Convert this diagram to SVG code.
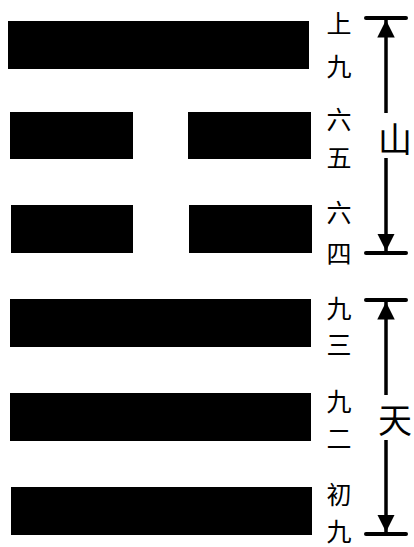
<svg xmlns="http://www.w3.org/2000/svg" width="414" height="547" viewBox="0 0 414 547">
<style>
.bar{fill:#000;}
.lbl{font-family:"Noto Sans CJK SC","Noto Sans CJK JP",sans-serif;font-size:25px;fill:#000;text-anchor:middle;dominant-baseline:central;}
.big{font-family:"Noto Sans CJK SC","Noto Sans CJK JP",sans-serif;font-size:34px;fill:#000;text-anchor:middle;dominant-baseline:central;}
.ln{stroke:#000;stroke-width:3.5;fill:none;}
.tick{stroke:#000;stroke-width:4;stroke-linecap:round;}
</style>
<defs>
<marker id="ah" viewBox="0 0 10 10" refX="10" refY="5" markerWidth="5" markerHeight="5" markerUnits="strokeWidth" orient="auto">
<path d="M0,0 L10,5 L0,10 z" fill="#000"/>
</marker>
</defs>
<rect width="414" height="547" fill="#fff"/>
<g id="line6"><rect class="bar" x="8" y="21" width="301" height="48"/></g>
<g id="line5"><rect class="bar" x="10" y="112" width="123" height="47"/><rect class="bar" x="188" y="112" width="123" height="47"/></g>
<g id="line4"><rect class="bar" x="11" y="205" width="122" height="48"/><rect class="bar" x="189" y="205" width="123" height="48"/></g>
<g id="line3"><rect class="bar" x="10" y="299" width="301" height="48"/></g>
<g id="line2"><rect class="bar" x="10" y="393" width="301" height="48"/></g>
<g id="line1"><rect class="bar" x="11" y="487" width="301" height="48"/></g>
<g id="labels">
<text class="lbl" x="339" y="22">上</text>
<text class="lbl" x="339" y="65">九</text>
<text class="lbl" x="339" y="118">六</text>
<text class="lbl" x="339" y="156">五</text>
<text class="lbl" x="339" y="211">六</text>
<text class="lbl" x="339" y="252">四</text>
<text class="lbl" x="339" y="307">九</text>
<text class="lbl" x="339" y="343">三</text>
<text class="lbl" x="339" y="400">九</text>
<text class="lbl" x="339" y="437">二</text>
<text class="lbl" x="339" y="493">初</text>
<text class="lbl" x="339" y="530">九</text>
</g>
<g id="shan"><text class="big" x="395" y="137">山</text></g>
<g id="tian"><text class="big" x="395" y="418">天</text></g>
<g id="connectors">
<line class="tick" x1="366" y1="18" x2="406" y2="18"/>
<line class="tick" x1="366" y1="253" x2="406" y2="253"/>
<line class="tick" x1="366" y1="300" x2="406" y2="300"/>
<line class="tick" x1="366" y1="534" x2="406" y2="534"/>
<line class="ln" x1="386" y1="113" x2="386" y2="20" marker-end="url(#ah)"/>
<line class="ln" x1="386" y1="158" x2="386" y2="251" marker-end="url(#ah)"/>
<line class="ln" x1="386" y1="395" x2="386" y2="302" marker-end="url(#ah)"/>
<line class="ln" x1="386" y1="440" x2="386" y2="532" marker-end="url(#ah)"/>
</g>
</svg>
